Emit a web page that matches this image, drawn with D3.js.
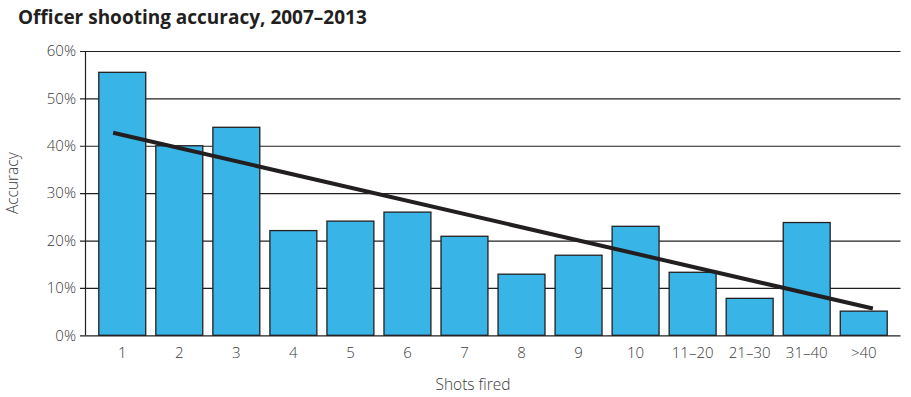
<!DOCTYPE html>
<html>
<head>
<meta charset="utf-8">
<script src="https://cdn.jsdelivr.net/npm/d3@7"></script>
<style>
	body { margin: 0; background: #fff; }
	svg text { font-family: 'Open Sans', sans-serif; }
	.tick text { fill: #3a3a3a; font-weight: 300; font-size: 15px; }
</style>
</head>
<body>
<svg id="chart" width="911" height="397"></svg>
<script>
const categories = ['1', '2', '3', '4', '5', '6', '7', '8', '9', '10', '11\u201320', '21\u201330', '31\u201340', '>40'];
const accuracy = [55.5, 40.0, 43.9, 22.1, 24.1, 26.0, 20.9, 12.9, 16.9, 23.0, 13.3, 7.8, 23.8, 5.1];
const yTicks = [0, 10, 20, 30, 40, 50, 60];
// trend line read at first and last category centre
const trendCats = ['1', '>40'];
const trendValues = [42.3, 6.1];

const svg = d3.select('svg#chart');
const mLeft = 85.5, mRight = 900.5, mTop = 51, mBottom = 335.3;
const ink = '#231f20';

const x = d3.scaleBand(categories, [mLeft, mRight])
	.paddingInner(0.177)
	.paddingOuter(0.233);
const y = d3.scaleLinear([0, 60], [mBottom, mTop]);

svg.append('text')
	.attr('x', 18)
	.attr('y', 23.5)
	.attr('font-size', 19)
	.attr('font-weight', 700)
	.attr('fill', ink)
	.text('Officer shooting accuracy, 2007\u20132013');

// gridlines + y labels
const yAxis = svg.append('g')
	.attr('transform', `translate(${mRight},0)`)
	.call(d3.axisLeft(y).tickValues(yTicks).tickSize(mRight - 80).tickPadding(4).tickFormat(d => d + '%'));
yAxis.select('.domain').remove();
yAxis.selectAll('.tick line').attr('stroke', ink).attr('stroke-width', 1.2);

svg.append('line')
	.attr('x1', mLeft).attr('x2', mLeft)
	.attr('y1', mTop).attr('y2', mBottom)
	.attr('stroke', ink).attr('stroke-width', 1.2);

svg.append('g')
	.selectAll('rect')
	.data(accuracy)
	.join('rect')
	.attr('x', (d, i) => x(categories[i]))
	.attr('y', d => y(d))
	.attr('width', x.bandwidth())
	.attr('height', d => y(0) - y(d))
	.attr('fill', '#39b4e7')
	.attr('stroke', ink)
	.attr('stroke-width', 1.3);

const xAxis = svg.append('g')
	.attr('transform', `translate(0,${mBottom})`)
	.call(d3.axisBottom(x).tickSize(0).tickPadding(10));
xAxis.select('.domain').remove();
xAxis.selectAll('.tick text').attr('dy', '0.71em').attr('y', 12);

// trend line, a bit past the first and last bar centre
const p0 = [x(trendCats[0]) + x.bandwidth() / 2, y(trendValues[0])];
const p1 = [x(trendCats[1]) + x.bandwidth() / 2, y(trendValues[1])];
const ext = 0.16 * x.step() / (p1[0] - p0[0]);
const lerp = t => [p0[0] + (p1[0] - p0[0]) * t, p0[1] + (p1[1] - p0[1]) * t];
svg.append('path')
	.datum([lerp(-ext), lerp(1 + ext)])
	.attr('d', d3.line())
	.attr('stroke', ink)
	.attr('stroke-width', 4)
	.attr('fill', 'none');

svg.append('text')
	.attr('transform', `translate(18,${(mTop + mBottom) / 2 - 10}) rotate(-90)`)
	.attr('text-anchor', 'middle')
	.attr('font-size', 15.5)
	.attr('font-weight', 300)
	.attr('fill', '#3a3a3a')
	.text('Accuracy');

svg.append('text')
	.attr('x', 473)
	.attr('y', 389.5)
	.attr('text-anchor', 'middle')
	.attr('font-size', 15.5)
	.attr('font-weight', 300)
	.attr('fill', '#3a3a3a')
	.text('Shots fired');
</script>
</body>
</html>
